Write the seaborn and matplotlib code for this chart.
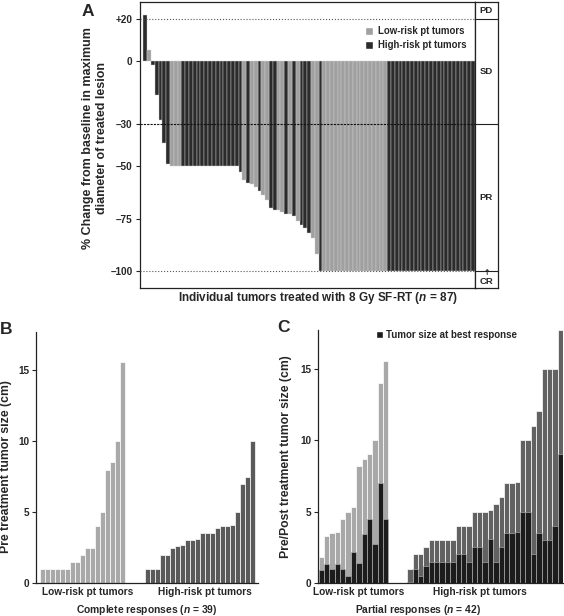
import numpy as np
import pandas as pd
import matplotlib
matplotlib.use('Agg')
import matplotlib.pyplot as plt
from matplotlib.patches import Patch
import seaborn as sns

# ---- Panel A: % change per tumor (waterfall), risk code L = low, H = high ----
pct_change = [22, 5, -2, -16, -28, -39, -49,
              -50, -50, -50,
              -50, -50, -50, -50, -50, -50, -50, -50, -50, -50, -50, -50, -50, -50, -50,
              -52.7, -56.7, -58, -58.5, -60, -62, -64, -66, -70, -71, -71, -72, -72.6,
              -73, -74, -76, -78, -79.5, -81.7, -84, -92, -100,
              -100, -100, -100, -100, -100, -100, -100, -100, -100, -100, -100, -100,
              -100, -100, -100, -100, -100,
              -100, -100, -100, -100, -100, -100, -100, -100, -100, -100, -100, -100,
              -100, -100, -100, -100, -100, -100, -100, -100, -100, -100, -100]
risk_a = ("HLHHHHH" "LLL" "HHHHHHHHHHHHHHH" "HLHLLHLLHHLLHLHLHHHLLH"
          "LLLLLLLLLLLLLLLLL" "HHHHHHHHHHHHHHHHHHHHHHH")
a_ticks = [20, 0, -30, -50, -75, -100]
a_ticklabels = ['+20', '0', '\u201330', '\u201350', '\u201375', '\u2013100']

# ---- Panel B: pre-treatment size of complete responders (cm) ----
cr_low = [1.0, 1.0, 1.0, 1.0, 1.0, 1.0, 1.5, 1.5, 2.0, 2.5, 2.5, 4.0, 5.0, 8.0, 8.5, 10.0, 15.6]
cr_high = [1.0, 1.0, 1.0, 2.0, 2.0, 2.5, 2.6, 2.7, 3.0, 3.0, 3.1, 3.5, 3.5, 3.5, 3.9,
           4.0, 4.0, 4.1, 5.0, 7.0, 7.5, 10.0]

# ---- Panel C: pre / best-response size of partial responders (cm) ----
pr_low_pre = [1.8, 3.3, 3.5, 3.6, 4.5, 5.0, 5.3, 8.2, 8.7, 9.0, 10.0, 14.0, 15.5]
pr_low_post = [0.9, 1.3, 1.0, 1.3, 1.0, 0.5, 2.2, 1.4, 3.4, 4.5, 2.7, 7.0, 4.5]
pr_high_pre = [1.0, 2.0, 2.0, 2.5, 3.0, 3.0, 3.0, 3.0, 3.0, 4.0, 4.0, 4.0, 5.0, 5.0, 5.0,
               5.1, 5.5, 6.0, 7.0, 7.0, 7.1, 10.0, 10.0, 11.0, 12.0, 15.0, 15.0, 15.0, 17.7]
pr_high_post = [0.1, 1.0, 0.5, 1.2, 1.5, 1.5, 1.5, 1.5, 1.5, 2.0, 2.0, 1.5, 2.5, 2.5, 1.5,
                3.1, 1.5, 2.5, 3.5, 3.5, 3.6, 5.0, 5.0, 2.0, 3.5, 3.0, 3.0, 4.0, 9.0]

LOW, HIGH = 'Low-risk pt tumors', 'High-risk pt tumors'

sns.set_style('ticks')
plt.rcParams['font.family'] = ['Liberation Sans', 'DejaVu Sans']
plt.rcParams['font.weight'] = 'bold'
plt.rcParams['mathtext.fontset'] = 'custom'
plt.rcParams['mathtext.it'] = 'Liberation Sans:italic:bold'
plt.rcParams['mathtext.rm'] = 'Liberation Sans:bold'
plt.rcParams['axes.linewidth'] = 0.9
plt.rcParams['axes.edgecolor'] = '#222222'

fig = plt.figure(figsize=(5.64, 6.16), dpi=100)
W, H = 564.0, 616.0


def box(x0, y0, x1, y1):
    # pixel box -> figure fraction rect
    return [x0 / W, 1 - y1 / H, (x1 - x0) / W, (y1 - y0) / H]


# ================= Panel A =================
ax_a = fig.add_axes(box(139.5, 2, 475, 288))
ax_s = fig.add_axes(box(475, 2, 498, 288))

df_a = pd.DataFrame({
    'pos': np.arange(len(pct_change)),
    'pct': pct_change,
    'risk': [LOW if r == 'L' else HIGH for r in risk_a],
})
sns.barplot(data=df_a, x='pos', y='pct', hue='risk', native_scale=True, dodge=False,
            palette={LOW: '#a0a0a0', HIGH: '#2b2b2b'}, width=1.0, errorbar=None,
            edgecolor='#d0d0d0', linewidth=0.3, legend=False, ax=ax_a)
ax_a.set_xlim(-1.5, len(pct_change) - 0.45)
ax_a.set_ylim(-108, 28)
ax_a.axhline(20, color='#555555', ls=':', lw=0.8, zorder=4)
ax_a.axhline(-100, color='#555555', ls=':', lw=0.8, zorder=4)
ax_a.axhline(-30, color='#111111', ls=(0, (2, 1)), lw=0.8, zorder=4)
ax_a.set_xticks([])
ax_a.set_xlabel('')
ax_a.set_ylabel('')
ax_a.set_yticks(a_ticks)
ax_a.set_yticklabels(a_ticklabels, fontsize=7.2, fontweight='bold')
ax_a.tick_params(axis='y', length=3, width=0.8, pad=2)
ax_a.legend(handles=[Patch(facecolor='#a0a0a0', label=LOW),
                     Patch(facecolor='#2b2b2b', label=HIGH)],
            loc='upper right', bbox_to_anchor=(0.975, 0.915), frameon=False,
            fontsize=6.9, handlelength=0.9, handleheight=0.9, handletextpad=0.5,
            labelspacing=0.4, borderpad=0, borderaxespad=0)

# response category strip on the right
ax_s.set_ylim(-108, 28)
ax_s.set_xlim(0, 1)
ax_s.set_xticks([])
ax_s.set_yticks([])
for lev in [20, -30, -100]:
    ax_s.axhline(lev, color='#222222', lw=0.8)
for lab, yv in [('PD', 24), ('SD', -5), ('PR', -65), ('CR', -105)]:
    ax_s.text(0.5, yv, lab, ha='center', va='center', fontsize=6.8, fontweight='bold')
ax_s.text(0.5, -100.8, '\u2191', ha='center', va='center', fontsize=5.5,
          family=['DejaVu Sans'])

fig.text(88 / W, 1 - 11 / H, 'A', fontsize=12.5, fontweight='bold', ha='center', va='center')
fig.text(95 / W, 1 - 138 / H, '% Change from baseline in maximum\ndiameter of treated lesion',
         rotation=90, ha='center', va='center', fontsize=9, fontweight='bold',
         linespacing=1.25)
fig.text(318 / W, 1 - 298 / H, r'Individual tumors treated with 8 Gy SF-RT ($n$ = 87)',
         ha='center', va='center', fontsize=8.5, fontweight='bold')

# ================= Panel B =================
ax_b = fig.add_axes(box(36, 332, 258, 583))
gap_b = 4
pos_b_low = np.arange(len(cr_low))
pos_b_high = len(cr_low) + gap_b + np.arange(len(cr_high))
df_b = pd.DataFrame({
    'pos': np.concatenate([pos_b_low, pos_b_high]),
    'size': cr_low + cr_high,
    'risk': [LOW] * len(cr_low) + [HIGH] * len(cr_high),
})
sns.barplot(data=df_b, x='pos', y='size', hue='risk', native_scale=True, dodge=False,
            palette={LOW: '#a9a9a9', HIGH: '#5a5a5a'}, width=1.0, errorbar=None,
            edgecolor='white', linewidth=0.5, legend=False, ax=ax_b)
ax_b.set_xlim(-1.3, pos_b_high[-1] + 1.0)
ax_b.set_ylim(0, 17.7)
ax_b.set_yticks([0, 5, 10, 15])
ax_b.set_yticklabels(['0', '5', '10', '15'], fontsize=7.2, fontweight='bold')
ax_b.set_xticks([pos_b_low.mean() + 1, pos_b_high.mean() + 0.8])
ax_b.set_xticklabels([LOW, HIGH], fontsize=7.3, fontweight='bold')
ax_b.tick_params(axis='x', length=0, pad=3)
ax_b.tick_params(axis='y', length=3, width=0.8, pad=2)
ax_b.set_xlabel('')
ax_b.set_ylabel('')
sns.despine(ax=ax_b)

fig.text(6 / W, 1 - 329 / H, 'B', fontsize=12.5, fontweight='bold', ha='center', va='center')
fig.text(6 / W, 1 - 467 / H, 'Pre treatment tumor size (cm)', rotation=90,
         ha='center', va='center', fontsize=8.8, fontweight='bold')
fig.text(147 / W, 1 - 610 / H, r'Complete responses ($n$ = 39)',
         ha='center', va='center', fontsize=7.4, fontweight='bold')

# ================= Panel C =================
ax_c = fig.add_axes(box(318.3, 330, 563, 583))
gap_c = 3.5
pos_c_low = np.arange(len(pr_low_pre))
pos_c_high = len(pr_low_pre) + gap_c + np.arange(len(pr_high_pre))
df_c = pd.DataFrame({
    'pos': np.concatenate([pos_c_low, pos_c_high]),
    'pre': pr_low_pre + pr_high_pre,
    'post': pr_low_post + pr_high_post,
    'risk': [LOW] * len(pr_low_pre) + [HIGH] * len(pr_high_pre),
})
sns.barplot(data=df_c, x='pos', y='pre', hue='risk', native_scale=True, dodge=False,
            palette={LOW: '#a8a8a8', HIGH: '#626262'}, width=1.0, errorbar=None,
            edgecolor='white', linewidth=0.5, legend=False, ax=ax_c)
sns.barplot(data=df_c, x='pos', y='post', native_scale=True, color='#1c1c1c',
            saturation=1, width=1.0, errorbar=None,
            edgecolor='#bbbbbb', linewidth=0.4, ax=ax_c)
ax_c.set_xlim(-0.56, pos_c_high[-1] + 0.5)
ax_c.set_ylim(0, 17.7)
ax_c.set_yticks([0, 5, 10, 15])
ax_c.set_yticklabels(['0', '5', '10', '15'], fontsize=7.2, fontweight='bold')
ax_c.set_xticks([pos_c_low.mean() + 1, pos_c_high.mean() - 1])
ax_c.set_xticklabels([LOW, HIGH], fontsize=7.3, fontweight='bold')
ax_c.tick_params(axis='x', length=0, pad=3)
ax_c.tick_params(axis='y', length=3, width=0.8, pad=2)
ax_c.set_xlabel('')
ax_c.set_ylabel('')
sns.despine(ax=ax_c)
ax_c.legend(handles=[Patch(facecolor='#1c1c1c', label='Tumor size at best response')],
            loc='upper left', bbox_to_anchor=(0.235, 1.0), frameon=False,
            fontsize=7.0, handlelength=0.7, handleheight=0.7, handletextpad=0.3,
            borderpad=0, borderaxespad=0)

fig.text(284 / W, 1 - 327 / H, 'C', fontsize=12.5, fontweight='bold', ha='center', va='center')
fig.text(286 / W, 1 - 457 / H, 'Pre/Post treatment tumor size (cm)', rotation=90,
         ha='center', va='center', fontsize=8.8, fontweight='bold')
fig.text(418 / W, 1 - 610 / H, r'Partial responses ($n$ = 42)',
         ha='center', va='center', fontsize=7.4, fontweight='bold')

fig.savefig('out.png', dpi=100)
